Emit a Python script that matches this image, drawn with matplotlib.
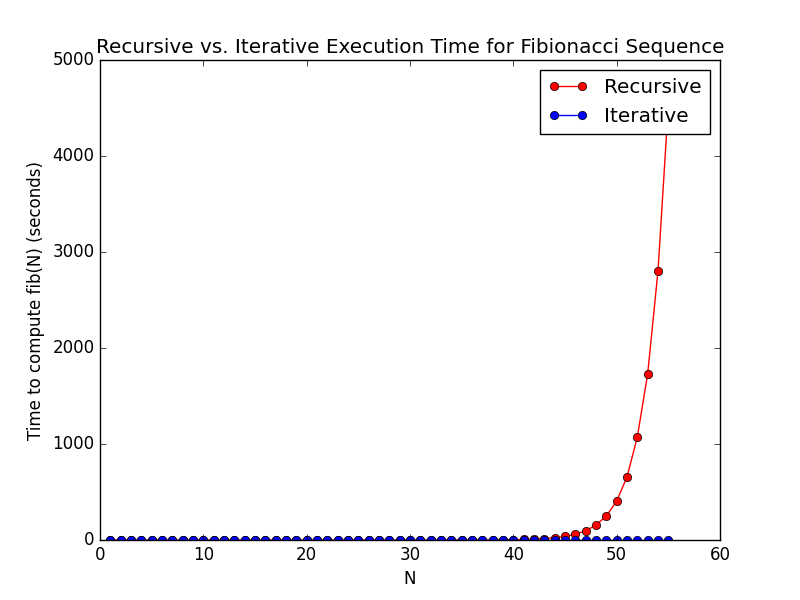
import matplotlib
matplotlib.use("Agg")
import matplotlib.pyplot as plt

plt.style.use("classic")

n = list(range(1, 56))

# recursive times in seconds (small values estimated)
recursive = [0.0, 0.0, 0.0, 0.0, 0.0, 0.0, 0.0, 0.0, 0.0, 0.0,
             0.0, 0.0, 0.0, 0.0, 0.0, 0.0, 0.0, 0.0, 0.0, 0.0,
             0.0, 0.0, 0.0, 0.0, 0.0, 0.01, 0.01, 0.01, 0.02, 0.03,
             0.05, 0.07, 0.12, 0.19, 0.3, 0.5, 0.8, 1.3, 2.1, 3.3,
             5.4, 8.7, 14, 23, 37, 60, 95, 156, 250, 406,
             656, 1073, 1729, 2802, 4530]
iterative = [0.0] * 55

fig = plt.figure(figsize=(8, 6), dpi=100)
plt.plot(n, recursive, "r-o", label="Recursive")
plt.plot(n, iterative, "b-o", label="Iterative")
plt.xlim(0, 60)
plt.ylim(0, 5000)
plt.xlabel("N")
plt.ylabel("Time to compute fib(N) (seconds)")
plt.title("Recursive vs. Iterative Execution Time for Fibionacci Sequence")
plt.legend(loc="upper right")
plt.savefig("out.png", dpi=100)
